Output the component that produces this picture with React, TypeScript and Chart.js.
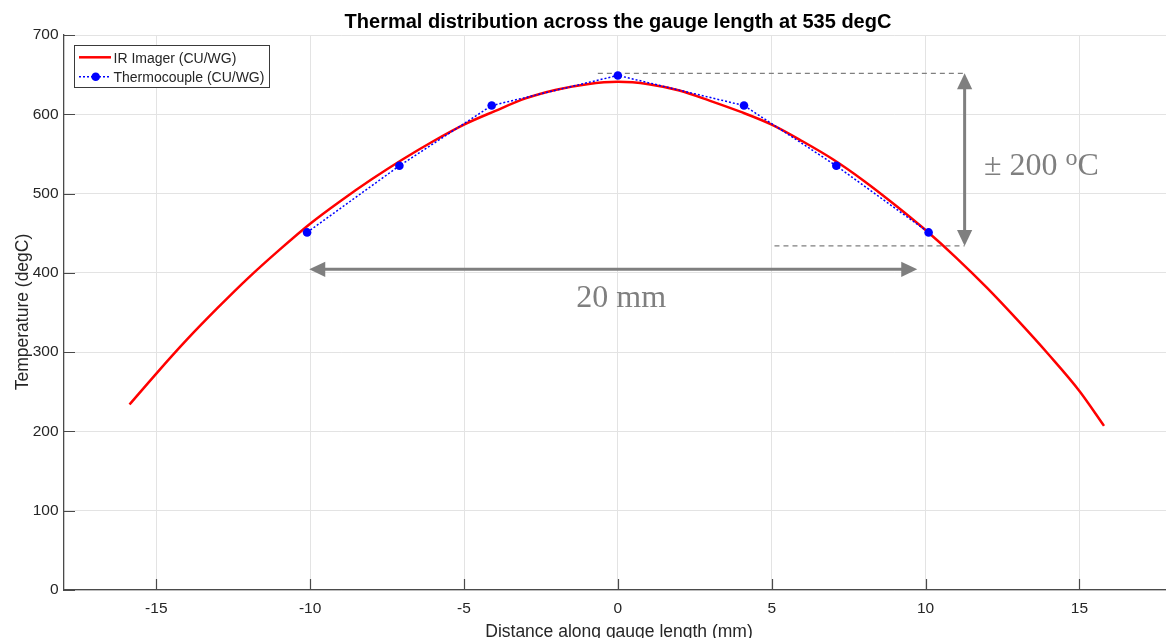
import React, { useEffect, useRef } from 'react';
import { Chart, registerables } from 'chart.js';

Chart.register(...registerables);

// ---------- data ----------
const irX = [-15.87, -15, -14, -13, -12, -11, -10, -9, -8, -7, -6, -5, -4, -3, -2, -1, 0, 1, 2, 3, 4, 5, 6, 7, 8, 9, 10, 11, 12, 13, 14, 15, 15.8];
const irY = [234, 273, 316, 356, 394, 429, 462, 491, 518, 543, 566, 587, 604, 620, 631, 638, 641, 638, 630, 617, 603, 587, 566, 543, 516, 486, 454, 419, 381, 340, 297, 251, 207];
const tcX = [-10.1, -7.1, -4.1, 0, 4.1, 7.1, 10.1];
const tcY = [451, 535, 611, 649, 611, 535, 451];
const xTicks = [-15, -10, -5, 0, 5, 10, 15];
const yTicks = [0, 100, 200, 300, 400, 500, 600, 700];
const seriesNames = ['IR Imager (CU/WG)', 'Thermocouple (CU/WG)'];
const titleText = 'Thermal distribution across the gauge length at 535 degC';
const xLabel = 'Distance along gauge length (mm)';
const yLabel = 'Temperature (degC)';

// annotation anchors (data coordinates)
const bandTop = 651.7;
const bandBottom = 434;
const bandX = 11.27;
const topDashStart = -0.65;
const bottomDashStart = 5.09;
const spanLeft = -10.03;
const spanRight = 9.73;
const spanY = 404.5;
const spanText = '20 mm';
const spanTextPos = [0.11, 356.5];
const bandTextMain = '\u00b1 200 ';
const bandTextSup = 'o';
const bandTextUnit = 'C';
const bandTextPos = [11.9, 523.4];

const SANS = '"Liberation Sans", Arial, Helvetica, sans-serif';
const SERIF = '"Liberation Serif", "Times New Roman", serif';
const AXIS_COLOR = '#4a4a4a';
const TEXT_COLOR = '#262626';
const ANNOT = '#7f7f7f';

function doubleArrow(ctx: CanvasRenderingContext2D, x1: number, y1: number, x2: number, y2: number) {
  const head = 16;
  const half = 7.6;
  const len = Math.hypot(x2 - x1, y2 - y1);
  const ux = (x2 - x1) / len;
  const uy = (y2 - y1) / len;
  const px = -uy;
  const py = ux;
  ctx.strokeStyle = ANNOT;
  ctx.fillStyle = ANNOT;
  ctx.lineWidth = 3;
  ctx.setLineDash([]);
  ctx.beginPath();
  ctx.moveTo(x1 + ux * head * 0.8, y1 + uy * head * 0.8);
  ctx.lineTo(x2 - ux * head * 0.8, y2 - uy * head * 0.8);
  ctx.stroke();
  const tri = (tx: number, ty: number, dx: number, dy: number) => {
    ctx.beginPath();
    ctx.moveTo(tx, ty);
    ctx.lineTo(tx + dx * head + px * half, ty + dy * head + py * half);
    ctx.lineTo(tx + dx * head - px * half, ty + dy * head - py * half);
    ctx.closePath();
    ctx.fill();
  };
  tri(x1, y1, ux, uy);
  tri(x2, y2, -ux, -uy);
}

const overlay = {
  id: 'overlay',
  beforeDatasetsDraw(chart: any) {
    const { ctx, scales } = chart;
    const x = scales.x;
    const y = scales.y;
    ctx.save();
    ctx.strokeStyle = ANNOT;
    ctx.lineWidth = 1.2;
    ctx.setLineDash([5, 4]);
    ctx.beginPath();
    ctx.moveTo(x.getPixelForValue(topDashStart), y.getPixelForValue(bandTop));
    ctx.lineTo(x.getPixelForValue(bandX), y.getPixelForValue(bandTop));
    ctx.moveTo(x.getPixelForValue(bottomDashStart), y.getPixelForValue(bandBottom));
    ctx.lineTo(x.getPixelForValue(bandX), y.getPixelForValue(bandBottom));
    ctx.stroke();
    doubleArrow(ctx, x.getPixelForValue(bandX), y.getPixelForValue(bandTop), x.getPixelForValue(bandX), y.getPixelForValue(bandBottom));
    doubleArrow(ctx, x.getPixelForValue(spanLeft), y.getPixelForValue(spanY), x.getPixelForValue(spanRight), y.getPixelForValue(spanY));
    ctx.restore();
  },
  afterDraw(chart: any) {
    const { ctx, scales, chartArea } = chart;
    const x = scales.x;
    const y = scales.y;
    ctx.save();
    // inward tick marks
    ctx.strokeStyle = AXIS_COLOR;
    ctx.lineWidth = 1.2;
    ctx.setLineDash([]);
    ctx.beginPath();
    for (const v of xTicks) {
      const px = Math.round(x.getPixelForValue(v)) + 0.5;
      ctx.moveTo(px, chartArea.bottom);
      ctx.lineTo(px, chartArea.bottom - 11);
    }
    for (const v of yTicks) {
      const py = Math.round(y.getPixelForValue(v)) + 0.5;
      ctx.moveTo(chartArea.left, py);
      ctx.lineTo(chartArea.left + 11, py);
    }
    ctx.stroke();

    // annotation texts
    ctx.fillStyle = ANNOT;
    ctx.font = `32px ${SERIF}`;
    ctx.textAlign = 'center';
    ctx.textBaseline = 'alphabetic';
    ctx.fillText(spanText, x.getPixelForValue(spanTextPos[0]), y.getPixelForValue(spanTextPos[1]));
    ctx.textAlign = 'left';
    let bx = x.getPixelForValue(bandTextPos[0]);
    const by = y.getPixelForValue(bandTextPos[1]);
    ctx.fillText(bandTextMain, bx, by);
    bx += ctx.measureText(bandTextMain).width;
    ctx.font = `24px ${SERIF}`;
    ctx.fillText(bandTextSup, bx, by - 10);
    bx += ctx.measureText(bandTextSup).width;
    ctx.font = `32px ${SERIF}`;
    ctx.fillText(bandTextUnit, bx, by);

    // title
    ctx.fillStyle = '#000';
    ctx.font = `bold 20px ${SANS}`;
    ctx.textAlign = 'center';
    ctx.fillText(titleText, 618, 27.5);

    // axis titles
    ctx.fillStyle = TEXT_COLOR;
    ctx.font = `17.5px ${SANS}`;
    ctx.fillText(xLabel, 619, 636.5);
    ctx.save();
    ctx.translate(28, 312);
    ctx.rotate(-Math.PI / 2);
    ctx.fillText(yLabel, 0, 0);
    ctx.restore();

    // legend
    const lx = 74.5, ly = 45.5, lw = 195, lh = 42;
    ctx.fillStyle = '#fff';
    ctx.fillRect(lx, ly, lw, lh);
    ctx.strokeStyle = '#3a3a3a';
    ctx.lineWidth = 1;
    ctx.strokeRect(lx, ly, lw, lh);
    ctx.strokeStyle = '#ff0000';
    ctx.lineWidth = 2.5;
    ctx.beginPath();
    ctx.moveTo(79, 57.3);
    ctx.lineTo(111, 57.3);
    ctx.stroke();
    ctx.strokeStyle = '#0000ff';
    ctx.lineWidth = 1.5;
    ctx.setLineDash([2, 2]);
    ctx.beginPath();
    ctx.moveTo(79, 76.7);
    ctx.lineTo(111, 76.7);
    ctx.stroke();
    ctx.setLineDash([]);
    ctx.fillStyle = '#0000ff';
    ctx.beginPath();
    ctx.arc(95.7, 76.7, 4.3, 0, Math.PI * 2);
    ctx.fill();
    ctx.fillStyle = TEXT_COLOR;
    ctx.font = `14px ${SANS}`;
    ctx.textAlign = 'left';
    ctx.fillText(seriesNames[0], 113.5, 63);
    ctx.fillText(seriesNames[1], 113.5, 82.3);
    ctx.restore();
  },
};

export default function App() {
  const ref = useRef<HTMLCanvasElement | null>(null);
  useEffect(() => {
    if (!ref.current) return;
    const chart = new Chart(ref.current, {
      type: 'line',
      data: {
        datasets: [
          {
            label: seriesNames[0],
            data: irX.map((v, i) => ({ x: v, y: irY[i] })),
            borderColor: '#ff0000',
            borderWidth: 2.5,
            pointRadius: 0,
            cubicInterpolationMode: 'monotone',
            fill: false,
            order: 1,
          },
          {
            label: seriesNames[1],
            data: tcX.map((v, i) => ({ x: v, y: tcY[i] })),
            borderColor: '#0000ff',
            borderWidth: 1.5,
            borderDash: [2, 2],
            pointRadius: 4.3,
            pointBackgroundColor: '#0000ff',
            pointBorderWidth: 0,
            tension: 0,
            fill: false,
            order: 0,
          },
        ],
      },
      options: {
        animation: false,
        responsive: false,
        maintainAspectRatio: false,
        layout: { padding: { top: 35, left: 0, right: 0, bottom: 0 } },
        plugins: {
          legend: { display: false },
          tooltip: { enabled: false },
          title: { display: false },
        },
        scales: {
          x: {
            type: 'linear',
            min: -18,
            max: 18,
            afterBuildTicks: (scale: any) => {
              scale.ticks = xTicks.map((v) => ({ value: v }));
            },
            afterFit: (scale: any) => {
              scale.height = 48;
              scale.paddingRight = 0;
              scale.paddingLeft = 0;
            },
            grid: { color: '#e3e3e3', lineWidth: 1, drawTicks: false },
            border: { color: AXIS_COLOR, width: 1.3 },
            ticks: {
              padding: 9,
              color: TEXT_COLOR,
              font: { family: SANS, size: 15.5 },
              maxRotation: 0,
            },
          },
          y: {
            type: 'linear',
            min: 0,
            max: 700,
            afterBuildTicks: (scale: any) => {
              scale.ticks = yTicks.map((v) => ({ value: v }));
            },
            afterFit: (scale: any) => {
              scale.width = 64;
            },
            grid: { color: '#e3e3e3', lineWidth: 1, drawTicks: false },
            border: { color: AXIS_COLOR, width: 1.3 },
            ticks: {
              padding: 5.5,
              color: TEXT_COLOR,
              font: { family: SANS, size: 15.5 },
            },
          },
        },
      },
      plugins: [overlay],
    } as any);
    return () => chart.destroy();
  }, []);
  return (
    <div style={{ position: 'fixed', left: 0, top: 0, width: 1166, height: 638, overflow: 'hidden', background: '#fff' }}>
      <canvas ref={ref} width={1176} height={638} style={{ display: 'block', width: 1176, height: 638 }} />
    </div>
  );
}
